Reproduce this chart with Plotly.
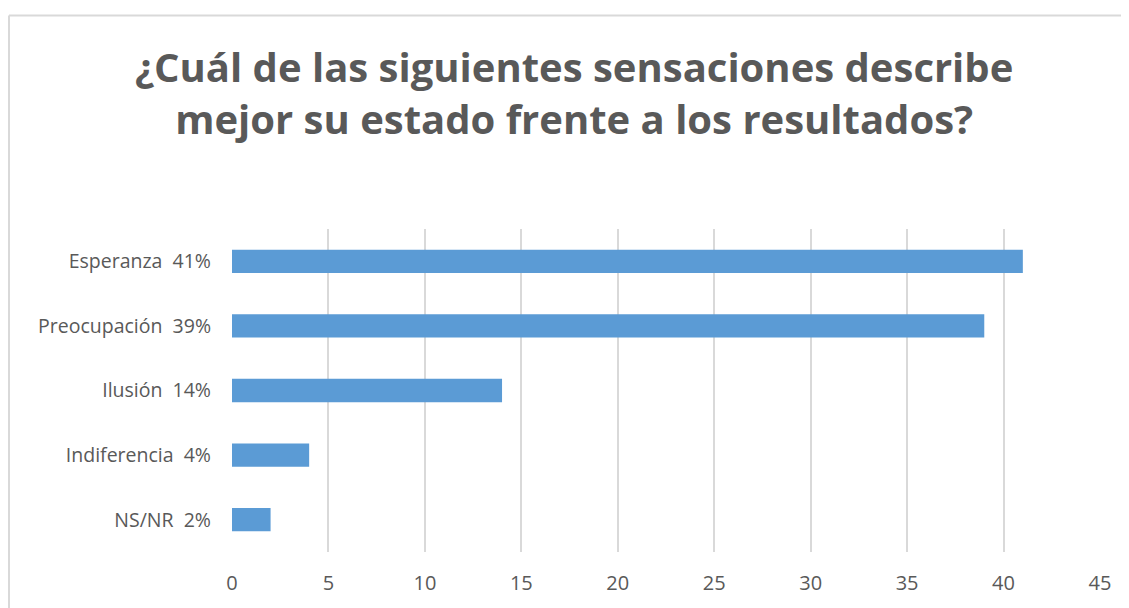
import plotly.graph_objects as go

categories = ["Esperanza", "Preocupación", "Ilusión", "Indiferencia", "NS/NR"]
values = [41, 39, 14, 4, 2]
pct_labels = ["41%", "39%", "14%", "4%", "2%"]
x_ticks = [0, 5, 10, 15, 20, 25, 30, 35, 40, 45]

ylabels = [f"{c}\u00a0\u00a0{p}" for c, p in zip(categories, pct_labels)]

OFF = 8  # page body margin
W, H = 1129 - OFF, 608 - OFF
L, R, T, B = 232 - OFF, 29, 229 - OFF, 57 - OFF
pw, ph = W - L - R, H - T - B

def px_to_paper_x(px):
    return (px - OFF - L) / pw

def px_to_paper_y(py):
    return (H - B - (py - OFF)) / ph

fig = go.Figure()
fig.add_trace(go.Bar(
    x=values, y=ylabels, orientation="h",
    marker=dict(color="#5B9BD5", line=dict(width=0)),
    width=0.36,
    hoverinfo="x+y",
))

fig.update_layout(
    width=W, height=H,
    margin=dict(l=L, r=R, t=T, b=B),
    paper_bgcolor="white", plot_bgcolor="white",
    showlegend=False,
    font=dict(family="Open Sans", color="#595959"),
    xaxis=dict(
        range=[0, 45], tickvals=x_ticks, showgrid=True,
        gridcolor="#d9d9d9", gridwidth=1.5, zeroline=False,
        showline=False, ticks="", tickfont=dict(size=20, color="#595959"),
        ticklabelstandoff=17, fixedrange=True,
    ),
    yaxis=dict(
        categoryorder="array", categoryarray=ylabels, autorange="reversed",
        showgrid=False, zeroline=False, showline=False, ticks="",
        tickfont=dict(size=19.5, color="#595959"), ticklabelstandoff=20,
        fixedrange=True,
    ),
    shapes=[
        dict(type="line", xref="paper", yref="paper",
             x0=px_to_paper_x(9), x1=px_to_paper_x(1140),
             y0=px_to_paper_y(11), y1=px_to_paper_y(11),
             line=dict(color="#d9d9d9", width=2)),
        dict(type="line", xref="paper", yref="paper",
             x0=px_to_paper_x(9), x1=px_to_paper_x(9),
             y0=px_to_paper_y(11), y1=px_to_paper_y(620),
             line=dict(color="#d9d9d9", width=2)),
    ],
    annotations=[
        dict(text="¿Cuál de las siguientes sensaciones describe<br>mejor su estado frente a los resultados?",
             xref="paper", yref="paper",
             x=px_to_paper_x(574), y=px_to_paper_y(90),
             xanchor="center", yanchor="middle", showarrow=False,
             align="center",
             font=dict(family="Open Sans", size=40, color="#595959", weight="bold")),
    ],
)

fig.write_html("out.html")
